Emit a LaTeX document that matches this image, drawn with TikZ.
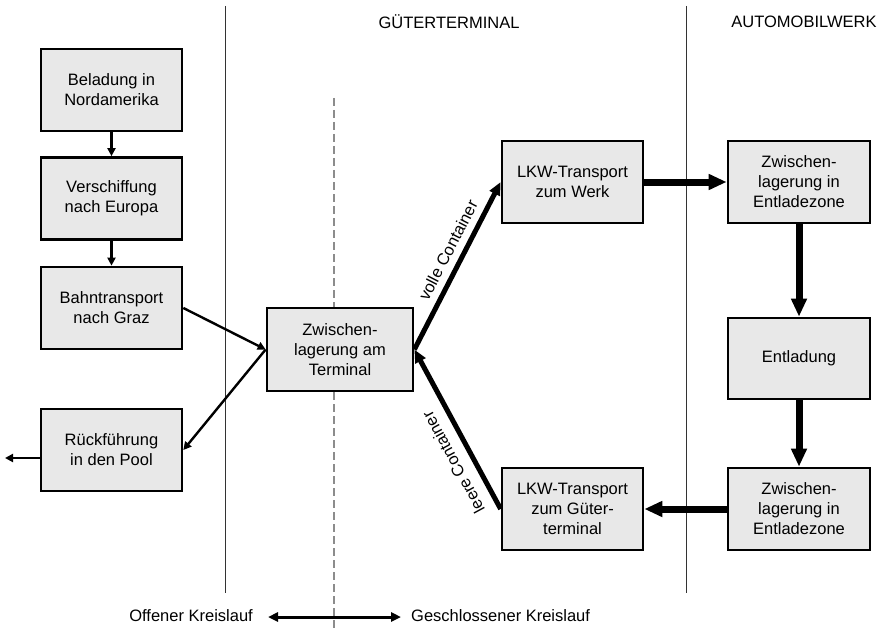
\documentclass[tikz,border=0pt]{standalone}
\usepackage{fontspec}
\setmainfont{Liberation Sans}
\usetikzlibrary{arrows.meta}
\begin{document}
\begin{tikzpicture}[x=1pt,y=-1pt,
  font=\fontsize{16.5}{20}\selectfont,
  procbox/.style={draw=black, line width=2.7pt, fill=black!9, align=center,
    minimum width=141pt, minimum height=82pt, inner sep=0pt},
  thinflow/.style={line width=2.4pt, -{Triangle[length=8pt,width=8pt]}},
  midflow/.style={line width=5pt, -{Triangle[length=13pt,width=11pt]}},
  thickflow/.style={line width=7pt, -{Triangle[length=18pt,width=15pt]}},
  divider/.style={line width=1pt, black!80},
  loopline/.style={line width=1.3pt, black!45, dash pattern=on 8pt off 4pt},
  header/.style={inner sep=0pt}
]
\useasboundingbox (0,0) rectangle (885,631);

% zone dividers
\draw[divider] (225,6) -- (225,593);
\draw[divider] (686,6) -- (686,593);

% headers
\node[header] (hgt) at (449,22) {GÜTERTERMINAL};
\node[header] (haw) at (804,22) {AUTOMOBILWERK};

% process steps
\node[procbox] (bel)   at (111.5,90)    {Beladung in\\Nordamerika};
\node[procbox] (ver)   at (111.5,198.5) {Verschiffung\\nach Europa};
\node[procbox] (bahn)  at (111.5,308)   {Bahntransport\\nach Graz};
\node[procbox] (rueck) at (111.5,450)   {Rückführung\\in den Pool};
\node[procbox, minimum width=146pt, minimum height=83pt] (term) at (340,349.5) {Zwischen-\\lagerung am\\Terminal};
\node[procbox] (lkwa)  at (572.5,182)   {LKW-Transport\\zum Werk};
\node[procbox, minimum width=142pt] (zwa) at (799,182) {Zwischen-\\lagerung in\\Entladezone};
\node[procbox, minimum width=142pt, minimum height=81pt] (entl) at (799,358.5) {Entladung};
\node[procbox, minimum width=142pt] (zwb) at (799,509) {Zwischen-\\lagerung in\\Entladezone};
\node[procbox] (lkwb)  at (572.5,509)   {LKW-Transport\\zum Güter-\\terminal};

% open loop
\draw[thinflow] (bel) -- (ver);
\draw[thinflow] (ver) -- (bahn);
\draw[thinflow] (bahn.east) -- (term.west);
\draw[thinflow] (term.west) -- (rueck.east);
\coordinate (pool) at (5,458);
\draw[thinflow] (rueck.west |- pool) -- (pool);

% closed loop
\draw[midflow] (term.east) -- node[sloped, above=6pt, pos=0.55, inner sep=1pt] {volle Container} (lkwa.west);
\draw[thickflow] (lkwa.east) -- (zwa.west);
\draw[thickflow] (zwa.south) -- (entl.north);
\draw[thickflow] (entl.south) -- (zwb.north);
\draw[thickflow] (zwb.west) -- (lkwb.east);
\draw[midflow] (lkwb.west) -- node[sloped, allow upside down, above=10pt, pos=0.35, inner sep=1pt] {leere Container} (term.east);

% open / closed loop legend
\coordinate (la) at (268,617);
\coordinate (lb) at (401,617);
\draw[line width=3pt, {Triangle[length=10pt,width=9pt]}-{Triangle[length=10pt,width=9pt]}] (la) -- (lb);
\node[anchor=east, inner sep=0pt] (lopen) at (253,616) {Offener Kreislauf};
\node[anchor=west, inner sep=0pt] (lclosed) at (411,616) {Geschlossener Kreislauf};

% boundary between open and closed loop
\coordinate (dtop) at (334,98);
\coordinate (dbot) at (334,631);
\draw[loopline] (dtop) -- (dtop |- term.north);
\draw[loopline] (dbot |- term.south) -- (dbot);
\end{tikzpicture}
\end{document}
